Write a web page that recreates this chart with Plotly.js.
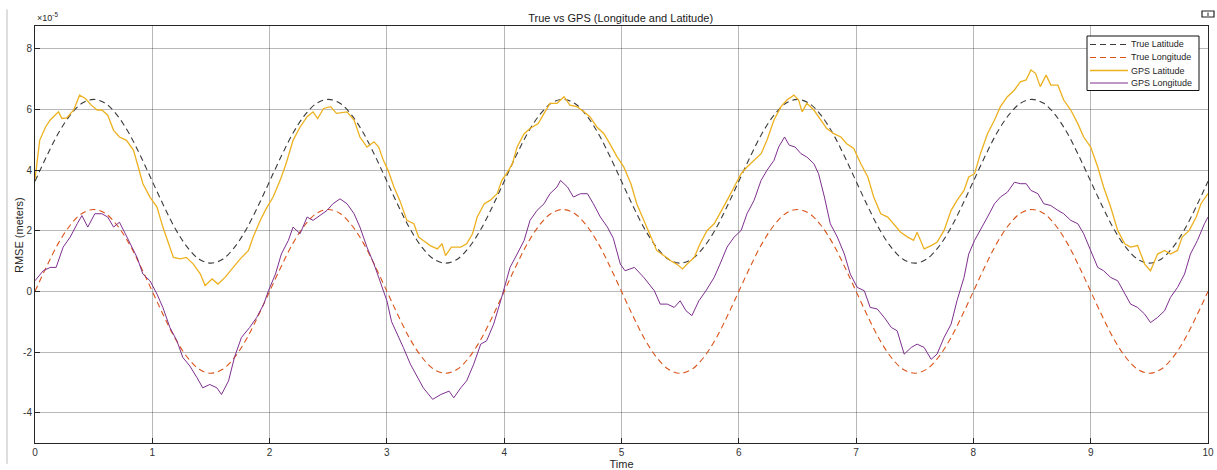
<!DOCTYPE html>
<html>
<head>
<meta charset="utf-8">
<script src="https://cdn.plot.ly/plotly-3.0.1.min.js"></script>
<style>html,body{margin:0;padding:0;background:#fff;}#chart{width:1217px;height:470px;}</style>
</head>
<body>
<div id="chart"></div>
<script>
// Values in units of 1e-5 (axis shows "x10^-5")
const trueX = [0,0.1,0.2,0.3,0.4,0.5,0.6,0.7,0.8,0.9,1,1.1,1.2,1.3,1.4,1.5,1.6,1.7,1.8,1.9,
2,2.1,2.2,2.3,2.4,2.5,2.6,2.7,2.8,2.9,3,3.1,3.2,3.3,3.4,3.5,3.6,3.7,3.8,3.9,
4,4.1,4.2,4.3,4.4,4.5,4.6,4.7,4.8,4.9,5,5.1,5.2,5.3,5.4,5.5,5.6,5.7,5.8,5.9,
6,6.1,6.2,6.3,6.4,6.5,6.6,6.7,6.8,6.9,7,7.1,7.2,7.3,7.4,7.5,7.6,7.7,7.8,7.9,
8,8.1,8.2,8.3,8.4,8.5,8.6,8.7,8.8,8.9,9,9.1,9.2,9.3,9.4,9.5,9.6,9.7,9.8,9.9,10];
const trueLat = [3.63,4.46,5.22,5.81,6.20,6.33,6.20,5.81,5.22,4.46,3.63,2.80,2.04,1.45,1.06,0.93,1.06,1.45,2.04,2.80,
3.63,4.46,5.22,5.81,6.20,6.33,6.20,5.81,5.22,4.46,3.63,2.80,2.04,1.45,1.06,0.93,1.06,1.45,2.04,2.80,
3.63,4.46,5.22,5.81,6.20,6.33,6.20,5.81,5.22,4.46,3.63,2.80,2.04,1.45,1.06,0.93,1.06,1.45,2.04,2.80,
3.63,4.46,5.22,5.81,6.20,6.33,6.20,5.81,5.22,4.46,3.63,2.80,2.04,1.45,1.06,0.93,1.06,1.45,2.04,2.80,
3.63,4.46,5.22,5.81,6.20,6.33,6.20,5.81,5.22,4.46,3.63,2.80,2.04,1.45,1.06,0.93,1.06,1.45,2.04,2.80,3.63];
const trueLon = [0,0.83,1.59,2.18,2.57,2.70,2.57,2.18,1.59,0.83,0,-0.83,-1.59,-2.18,-2.57,-2.70,-2.57,-2.18,-1.59,-0.83,
0,0.83,1.59,2.18,2.57,2.70,2.57,2.18,1.59,0.83,0,-0.83,-1.59,-2.18,-2.57,-2.70,-2.57,-2.18,-1.59,-0.83,
0,0.83,1.59,2.18,2.57,2.70,2.57,2.18,1.59,0.83,0,-0.83,-1.59,-2.18,-2.57,-2.70,-2.57,-2.18,-1.59,-0.83,
0,0.83,1.59,2.18,2.57,2.70,2.57,2.18,1.59,0.83,0,-0.83,-1.59,-2.18,-2.57,-2.70,-2.57,-2.18,-1.59,-0.83,
0,0.83,1.59,2.18,2.57,2.70,2.57,2.18,1.59,0.83,0,-0.83,-1.59,-2.18,-2.57,-2.70,-2.57,-2.18,-1.59,-0.83,0];

const gpsLatX = [0,0.04,0.09,0.13,0.2,0.23,0.27,0.33,0.38,0.43,0.48,0.53,0.57,0.62,0.67,0.72,0.78,0.84,0.88,0.92,0.98,
1.04,1.09,1.14,1.18,1.24,1.29,1.35,1.41,1.45,1.51,1.56,1.62,1.69,1.75,1.82,1.86,1.92,1.97,
2.03,2.09,2.14,2.2,2.26,2.32,2.37,2.41,2.46,2.52,2.57,2.66,2.72,2.77,2.83,2.89,2.93,2.97,
3.01,3.06,3.11,3.17,3.23,3.27,3.31,3.37,3.43,3.47,3.5,3.55,3.63,3.68,3.73,3.77,3.83,3.88,3.94,3.98,
4.02,4.07,4.11,4.17,4.22,4.29,4.34,4.39,4.45,4.51,4.56,4.62,4.68,4.73,4.79,4.85,4.9,4.96,
5.02,5.08,5.13,5.19,5.25,5.3,5.36,5.42,5.47,5.52,5.56,5.62,5.67,5.73,5.79,5.84,5.9,5.96,
6.02,6.07,6.13,6.19,6.24,6.3,6.36,6.41,6.47,6.51,6.54,6.58,6.64,6.7,6.75,6.81,6.87,6.92,6.98,
7.04,7.1,7.15,7.21,7.27,7.32,7.38,7.44,7.49,7.52,7.58,7.64,7.69,7.75,7.81,7.86,7.92,7.96,
8.01,8.06,8.12,8.18,8.23,8.29,8.35,8.4,8.45,8.49,8.53,8.57,8.62,8.66,8.72,8.77,8.83,8.89,8.94,
9,9.06,9.11,9.17,9.23,9.29,9.34,9.4,9.46,9.51,9.57,9.63,9.68,9.74,9.78,9.84,9.9,9.94,10];
const gpsLat = [3.7,4.98,5.42,5.65,5.92,5.7,5.72,5.98,6.47,6.36,6.14,5.98,5.98,5.81,5.31,5.09,4.98,4.65,4.1,3.55,3.11,
2.78,2.12,1.57,1.12,1.07,1.12,0.9,0.57,0.19,0.41,0.24,0.46,0.79,1.07,1.35,1.79,2.34,2.72,
3.11,3.66,4.21,4.98,5.42,5.76,5.92,5.7,6.03,6.09,5.87,5.92,5.65,5.09,4.76,4.93,4.76,4.32,
3.99,3.44,3.0,2.34,2.23,1.79,1.68,1.51,1.4,1.57,1.18,1.46,1.46,1.57,1.9,2.45,2.89,3.0,3.22,3.66,
3.88,4.21,4.76,5.2,5.37,5.53,5.87,6.2,6.2,6.42,6.14,6.09,5.92,5.76,5.42,5.2,4.87,4.45,
4.1,3.55,2.89,2.34,1.79,1.35,1.18,1.01,0.9,0.74,0.9,1.12,1.57,2.01,2.23,2.56,3.0,3.44,
3.88,4.1,4.32,4.54,4.98,5.65,6.09,6.31,6.47,6.31,5.92,6.2,5.98,5.65,5.37,5.2,5.09,4.87,4.71,
4.21,3.77,3.11,2.56,2.45,2.23,1.95,1.79,1.68,1.95,1.4,1.51,1.62,2.01,2.67,3.0,3.33,3.77,
3.88,4.54,5.2,5.65,6.09,6.42,6.64,6.91,6.97,7.3,7.19,6.75,7.13,6.8,6.8,6.31,5.98,5.53,5.09,
4.76,4.1,3.44,2.78,2.01,1.57,1.46,1.51,0.9,0.68,1.23,1.35,1.23,1.35,1.79,2.01,2.45,2.89,3.22];

const gpsLonX = [0,0.07,0.13,0.18,0.24,0.3,0.36,0.4,0.45,0.51,0.57,0.62,0.67,0.72,0.77,0.81,0.87,0.92,0.98,
1.04,1.09,1.15,1.21,1.26,1.32,1.38,1.43,1.49,1.55,1.59,1.65,1.7,1.76,1.83,1.89,1.95,1.99,
2.05,2.1,2.16,2.2,2.26,2.32,2.37,2.43,2.49,2.54,2.6,2.66,2.72,2.77,2.83,2.89,2.94,
3,3.04,3.09,3.14,3.2,3.26,3.31,3.39,3.46,3.53,3.57,3.63,3.68,3.74,3.8,3.85,3.91,3.97,
4.01,4.05,4.11,4.17,4.22,4.28,4.34,4.39,4.45,4.48,4.54,4.59,4.65,4.71,4.76,4.82,4.88,4.93,4.99,
5.03,5.11,5.19,5.28,5.33,5.39,5.45,5.5,5.55,5.6,5.66,5.72,5.79,5.84,5.9,5.96,
6.02,6.07,6.13,6.19,6.24,6.3,6.34,6.39,6.43,6.48,6.53,6.58,6.64,6.68,6.73,6.78,6.84,6.9,6.95,
7.01,7.07,7.12,7.18,7.24,7.3,7.35,7.41,7.47,7.52,7.58,7.64,7.69,7.75,7.81,7.86,7.92,7.96,
8.01,8.06,8.12,8.18,8.23,8.29,8.35,8.4,8.45,8.49,8.55,8.6,8.66,8.72,8.77,8.83,8.89,8.94,
9,9.06,9.11,9.17,9.23,9.29,9.34,9.4,9.46,9.51,9.57,9.63,9.68,9.74,9.8,9.85,9.91,9.97,10];
const gpsLon = [0.35,0.68,0.79,0.79,1.46,1.79,2.23,2.5,2.12,2.56,2.56,2.45,2.12,2.28,1.9,1.57,1.12,0.57,0.35,
-0.09,-0.53,-1.19,-1.63,-2.18,-2.46,-2.84,-3.18,-3.07,-3.18,-3.4,-2.95,-2.18,-1.52,-1.19,-0.86,-0.42,0.02,
0.57,1.23,1.68,2.12,1.9,2.45,2.34,2.5,2.67,2.89,3.05,2.89,2.56,2.12,1.46,0.9,0.35,
-0.31,-1.0,-1.41,-1.85,-2.4,-2.84,-3.18,-3.56,-3.4,-3.29,-3.51,-3.18,-2.95,-2.4,-1.74,-1.63,-1.08,-0.31,
0.24,0.79,1.23,1.68,2.34,2.67,2.89,3.22,3.44,3.66,3.44,3.11,3.22,3.22,2.89,2.45,2.12,1.75,0.9,
0.68,0.79,0.46,0.02,-0.42,-0.42,-0.53,-0.31,-0.64,-0.8,-0.31,0.02,0.46,0.9,1.46,1.79,
2.01,2.56,3.0,3.66,3.99,4.32,4.76,5.09,4.82,4.76,4.54,4.43,4.21,3.88,3.11,2.23,1.79,1.23,0.57,
0.13,0.02,-0.53,-0.58,-0.86,-1.19,-1.3,-2.07,-1.85,-1.74,-1.85,-2.24,-2.07,-1.52,-1.08,-0.31,0.46,1.23,
1.68,2.01,2.45,2.89,3.11,3.27,3.6,3.55,3.55,3.33,3.22,2.89,2.83,2.67,2.56,2.34,2.23,1.9,
1.35,0.79,0.68,0.46,0.35,-0.09,-0.42,-0.53,-0.75,-1.03,-0.86,-0.64,-0.2,0.13,0.57,1.23,1.68,2.23,2.45];

const yTicks = [-4,-2,0,2,4,6,8];
const xTicks = [0,1,2,3,4,5,6,7,8,9,10];

const FONT = 'Liberation Sans, Arial, Helvetica, sans-serif';

const traces = [
  {x: trueX, y: trueLat, name: 'True Latitude', mode: 'lines', line: {color: '#3a3a3a', width: 1.1, dash: '6px,4px', shape: 'spline'}},
  {x: trueX, y: trueLon, name: 'True Longitude', mode: 'lines', line: {color: '#D95319', width: 1.1, dash: '6px,4px', shape: 'spline'}},
  {x: gpsLatX, y: gpsLat, name: 'GPS Latitude', mode: 'lines', line: {color: '#EDB120', width: 1.3}},
  {x: gpsLonX, y: gpsLon, name: 'GPS Longitude', mode: 'lines', line: {color: '#7E2F8E', width: 1}}
];

// pixel -> paper helpers (plot area: x 35..1208, y 26..443)
const PL = 35, PW = 1173, PB = 443, PH = 417;
const px = v => (v - PL) / PW;
const py = v => (PB - v) / PH;

// Compact MATLAB-style legend built from the traces
const legendRows = [44.5, 57.5, 70.5, 83];
const shapes = [
  {type: 'line', xref: 'paper', yref: 'paper', x0: px(7), x1: px(7), y0: -0.05, y1: 1.04, line: {color: '#bdbdbd', width: 1}},
  {type: 'rect', xref: 'paper', yref: 'paper', x0: px(1202), x1: px(1214), y0: py(17), y1: py(11), line: {color: '#222', width: 1.2}, fillcolor: '#ffffff'},
  {type: 'line', xref: 'paper', yref: 'paper', x0: px(1208), x1: px(1208), y0: py(16), y1: py(12.5), line: {color: '#222', width: 1}},
  {type: 'rect', xref: 'paper', yref: 'paper', x0: px(1087), x1: px(1199), y0: py(90.5), y1: py(36), line: {color: '#111', width: 1}, fillcolor: '#ffffff', layer: 'above'}
];
const annotations = [
  {xref: 'paper', yref: 'paper', x: 0, y: 1, xanchor: 'left', yanchor: 'bottom', yshift: 1,
   text: '\u00d710<sup>-5</sup>', showarrow: false, font: {family: FONT, size: 9, color: '#262626'}},
  {xref: 'paper', yref: 'paper', x: px(19), y: py(235), xanchor: 'center', yanchor: 'middle', textangle: -90,
   text: 'RMSE (meters)', showarrow: false, font: {family: FONT, size: 11, color: '#262626'}}
];
traces.forEach((t, i) => {
  shapes.push({type: 'line', xref: 'paper', yref: 'paper', layer: 'above',
    x0: px(1090), x1: px(1128), y0: py(legendRows[i]), y1: py(legendRows[i]),
    line: {color: t.line.color, width: t.line.width + (i === 2 ? 0.4 : 0), dash: t.line.dash || 'solid'}});
  annotations.push({xref: 'paper', yref: 'paper', x: px(1129), y: py(legendRows[i]), xanchor: 'left', yanchor: 'middle',
    text: t.name, showarrow: false, font: {family: FONT, size: 9, color: '#262626'}});
});

const layout = {
  width: 1217, height: 470,
  margin: {l: 35, r: 9, t: 26, b: 27},
  paper_bgcolor: '#ffffff', plot_bgcolor: '#ffffff',
  font: {family: FONT, size: 10, color: '#262626'},
  title: {text: 'True vs GPS (Longitude and Latitude)', x: 0.51, xanchor: 'center', y: 0.962, yanchor: 'middle', font: {family: FONT, size: 11, color: '#1a1a1a'}},
  xaxis: {
    range: [0, 10], tickvals: xTicks, ticktext: xTicks.map(String),
    showgrid: true, gridcolor: 'rgba(0,0,0,0.28)', gridwidth: 1, zeroline: false,
    showline: true, linecolor: '#262626', linewidth: 1, mirror: true,
    ticks: 'inside', ticklen: 5, tickcolor: '#262626',
    tickfont: {size: 10, color: '#333'},
    title: {text: 'Time', font: {size: 11, color: '#262626'}, standoff: 2}
  },
  yaxis: {
    range: [-5, 8.75], tickvals: yTicks, ticktext: yTicks.map(String),
    showgrid: true, gridcolor: 'rgba(0,0,0,0.28)', gridwidth: 1, zeroline: false,
    showline: true, linecolor: '#262626', linewidth: 1, mirror: true,
    ticks: 'inside', ticklen: 5, tickcolor: '#262626',
    tickfont: {size: 10, color: '#333'}
  },
  showlegend: false,
  annotations: annotations,
  shapes: shapes
};

Plotly.newPlot('chart', traces, layout, {displayModeBar: false, responsive: false});
</script>
</body>
</html>
